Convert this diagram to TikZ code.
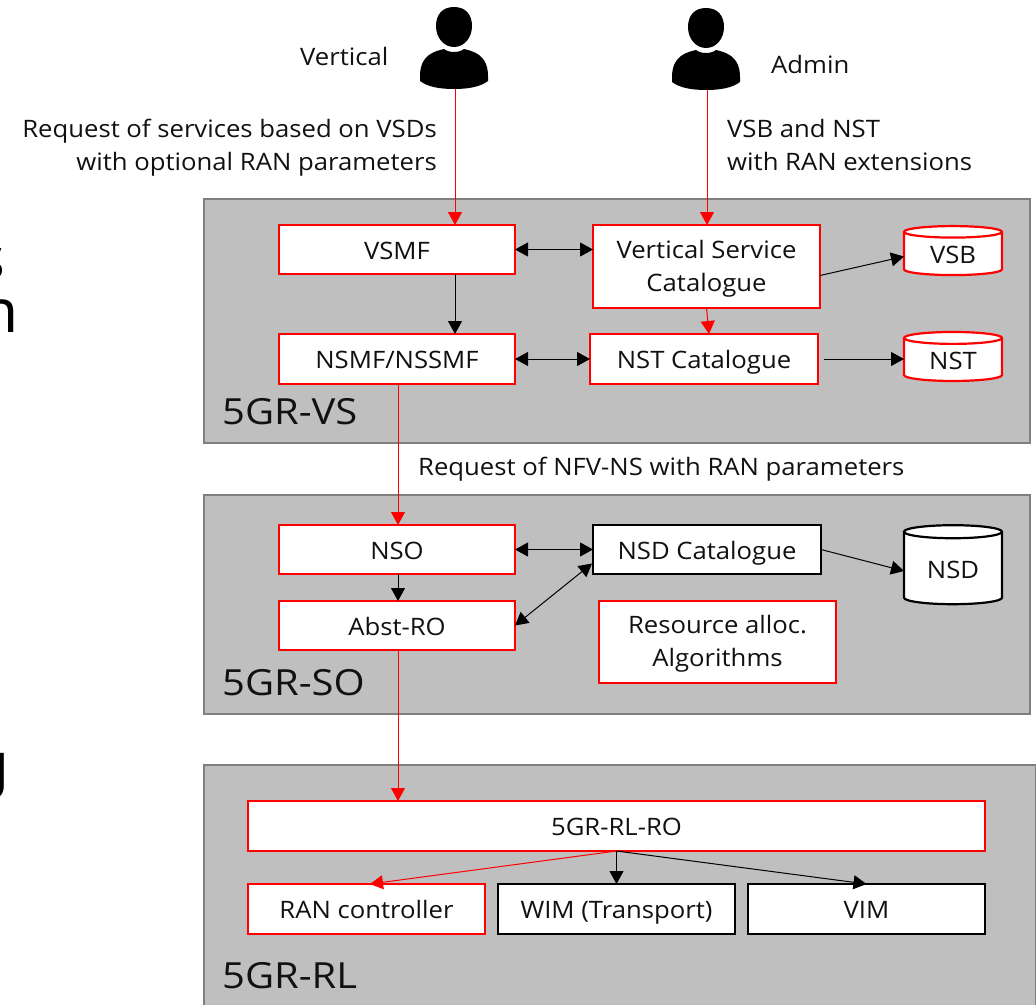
\documentclass[tikz,border=0pt]{standalone}
\usepackage{fontspec}
\setmainfont[FakeStretch=1.07]{Open Sans}
\newfontfamily\panelfont[FakeStretch=1.11]{Open Sans}
\newfontfamily\cutfont{Noto Sans}
\usetikzlibrary{arrows.meta,shapes.geometric,calc}
\definecolor{panelgray}{HTML}{BFBFBF}
\definecolor{panelline}{HTML}{7F7F7F}
\definecolor{inkblack}{HTML}{111111}
\newcommand{\lbl}{\fontsize{24}{33}\selectfont}
\newcommand{\pnl}{\panelfont\fontsize{36}{40}\selectfont}
\newcommand{\lowerfirst}{\rule{0pt}{22.5pt}}
\tikzset{
  panel/.style={draw=panelline,line width=2pt,fill=panelgray,inner sep=0,outer sep=0,anchor=north west},
  panellabel/.style={inner sep=0,anchor=base west,font=\pnl,text=inkblack},
  redbox/.style={draw=red,line width=2.2pt,fill=white,inner sep=0,outer sep=0,anchor=north west,align=center,font=\lbl,text=inkblack},
  blackbox/.style={redbox,draw=black},
  oneline/.style={text height=19pt,text depth=0pt},
  redcyl/.style={cylinder,shape border rotate=90,draw=red,line width=2.2pt,fill=white,inner sep=0,outer sep=0,font=\lbl,text=inkblack,aspect=0.25,anchor=center,oneline},
  blackcyl/.style={redcyl,draw=black},
  textlabel/.style={inner sep=0,font=\lbl,text=inkblack,align=left},
  cropped/.style={inner sep=0,anchor=base east,font=\cutfont\fontsize{60}{60}\selectfont,text=black,text height=32pt,text depth=0pt},
  personbox/.style={inner sep=0,minimum width=68pt,minimum height=82pt,anchor=center},
  redarrow/.style={draw=red,line width=1pt,-{Triangle[length=13pt,width=14pt]}},
  blackarrow/.style={draw=black,line width=1pt,-{Triangle[length=13pt,width=14pt]}},
  blackboth/.style={draw=black,line width=1pt,{Triangle[length=13pt,width=14pt]}-{Triangle[length=13pt,width=14pt]}},
  pics/personicon/.style={code={
    \fill[black] (0,-41) .. controls (12,-41) and (18,-33) .. (18,-22)
      .. controls (18,-10) and (10,-1) .. (0,-1)
      .. controls (-10,-1) and (-18,-10) .. (-18,-22)
      .. controls (-18,-33) and (-12,-41) .. (0,-41) -- cycle;
    \fill[black] (-10,1) .. controls (-5,5) and (5,5) .. (10,1)
      .. controls (18,3) and (34,6) .. (34,28)
      -- (34,33) .. controls (26,39) and (14,41) .. (0,41)
      .. controls (-14,41) and (-26,39) .. (-34,33) -- (-34,28)
      .. controls (-34,6) and (-18,3) .. (-10,1) -- cycle;
  }},
}
\begin{document}
\begin{tikzpicture}[x=1pt,y=-1pt]
\useasboundingbox (0,0) rectangle (1036,1004);
% cropped letters at the left edge
\node[cropped] (cutS) at (5,279) {s};
\node[cropped] (cutN) at (19,332) {n};
\node[cropped] (cutG) at (10,785) {g};
% panels
\node[panel,minimum width=826pt,minimum height=244pt] (vs) at (204,199) {};
\node[panel,minimum width=826pt,minimum height=219pt] (so) at (204,495) {};
\node[panel,minimum width=832pt,minimum height=245pt] (rl) at (204,765) {};
\node[panellabel] (vsl) at (222,424) {5GR-VS};
\node[panellabel] (sol) at (222,695) {5GR-SO};
\node[panellabel] (rll) at (222,988) {5GR-RL};
% persons
\node[personbox] (vertical) at (454,48) {};
\pic at (vertical.center) {personicon};
\node[personbox] (admin) at (706,49) {};
\pic at (admin.center) {personicon};
\node[textlabel,anchor=base west] (vtext) at (300,65) {Vertical};
\node[textlabel,anchor=base west] (atext) at (771,73) {Admin};
\node[textlabel,anchor=base east,align=right] (reqv) at (437,170) {Request of services based on VSDs\\with optional RAN parameters};
\node[textlabel,anchor=base west] (reqa) at (727,170) {VSB and NST\\with RAN extensions};
\node[textlabel,anchor=base west] (reqn) at (418,475) {Request of NFV-NS with RAN parameters};
% boxes
\node[redbox,oneline,minimum width=236pt,minimum height=49pt] (vsmf) at (279,225) {VSMF};
\node[redbox,oneline,minimum width=236pt,minimum height=50pt] (nsmf) at (279,334) {NSMF/NSSMF};
\node[redbox,minimum width=227pt,minimum height=83pt] (vsc) at (593,225) {\lowerfirst Vertical Service\\Catalogue};
\node[redbox,oneline,minimum width=228pt,minimum height=50pt] (nstc) at (590,334) {NST Catalogue};
\node[redcyl,minimum width=98pt,minimum height=49pt] (vsb) at (953,254) {VSB};
\node[redcyl,minimum width=98pt,minimum height=49pt] (nst) at (953,360) {NST};
\node[redbox,oneline,minimum width=236pt,minimum height=49pt] (nso) at (279,525) {NSO};
\node[redbox,oneline,minimum width=236pt,minimum height=49pt] (abst) at (279,601) {Abst-RO};
\node[blackbox,oneline,minimum width=228pt,minimum height=49pt] (nsdc) at (593,525) {NSD Catalogue};
\node[redbox,minimum width=237pt,minimum height=82pt] (res) at (599,601) {\lowerfirst Resource alloc.\\Algorithms};
\node[blackcyl,minimum width=98pt,minimum height=79pt] (nsd) at (953,568.5) {NSD};
\node[redbox,oneline,minimum width=737pt,minimum height=50pt] (ro) at (248,801) {5GR-RL-RO};
\node[redbox,oneline,minimum width=237pt,minimum height=50pt] (ran) at (248,884) {RAN controller};
\node[blackbox,oneline,minimum width=237pt,minimum height=50pt] (wim) at (498,884) {WIM (Transport)};
\node[blackbox,oneline,minimum width=237pt,minimum height=50pt] (vim) at (748,884) {VIM};
% connectors
\draw[redarrow] ([xshift=1pt]vertical.south) -- ([xshift=1pt]vertical.south |- vsmf.north);
\draw[redarrow] ([xshift=1pt]admin.south) -- ([xshift=1pt]admin.south |- vsc.north);
\draw[blackboth] (vsmf.east) -- (vsc.west |- vsmf.east);
\draw[blackarrow] ([yshift=-9pt]vsc.east) -- ([yshift=-2.5pt]vsb.west);
\draw[blackarrow] ([xshift=58pt]vsmf.south) -- ([xshift=58pt]nsmf.north);
\draw[redarrow] (vsc.south) -- ([xshift=5pt]nstc.north);
\draw[blackboth] (nsmf.east) -- (nstc.west);
\draw[blackarrow] ([xshift=6pt]nstc.east) -- (nstc.east -| nst.west);
\draw[redarrow] ([xshift=1pt]nsmf.south) -- ([xshift=1pt]nso.north);
\draw[blackarrow] ([xshift=1pt]nso.south) -- ([xshift=1pt]abst.north);
\draw[blackboth] (nso.east) -- (nsdc.west);
\draw[blackboth] (abst.east) -- ([yshift=-14pt,xshift=-1pt]nsdc.west);
\draw[blackarrow] (nsdc.east) -- ([yshift=-2.5pt]nsd.west);
\draw[redarrow] ([xshift=1pt]abst.south) -- ([xshift=1pt]abst.south |- ro.north);
\coordinate (fork) at (ro.south);
\draw[redarrow] (fork) -- ([xshift=3.5pt]ran.north);
\draw[blackarrow] (fork) -- (fork |- wim.north);
\draw[blackarrow] (fork) -- (vim.north);
\end{tikzpicture}
\end{document}
